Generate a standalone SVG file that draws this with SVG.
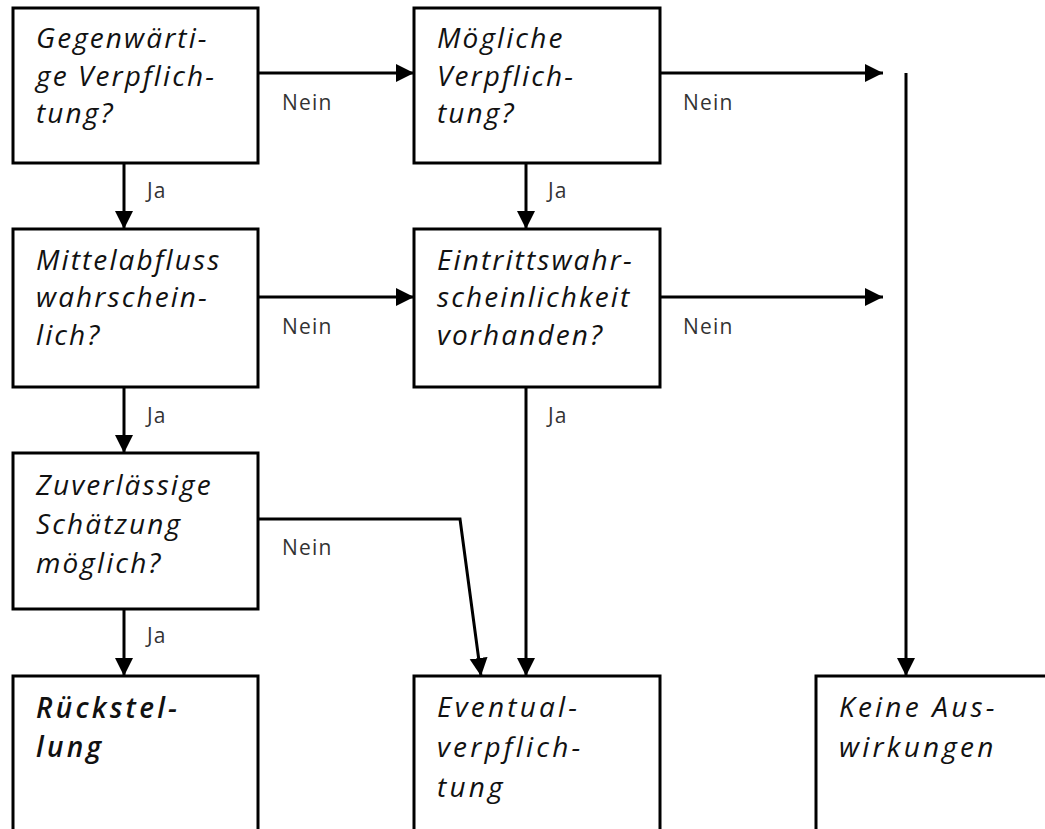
<svg xmlns="http://www.w3.org/2000/svg" width="1045" height="829" viewBox="0 0 1045 829">
<defs>
<marker id="arr" markerUnits="userSpaceOnUse" markerWidth="20" markerHeight="20" refX="18" refY="9" orient="auto">
<path d="M0,0 L18,9 L0,18 Z" fill="#000"/>
</marker>
<style>
.box{fill:#fff;stroke:#000;stroke-width:3}
.t{font-family:"Open Sans","Noto Sans",sans-serif;font-style:italic;font-size:28px;letter-spacing:2.1px;fill:#111}
.b{font-weight:600}
.w{letter-spacing:3.2px}
.lbl{font-family:"Open Sans","Noto Sans",sans-serif;font-size:21px;letter-spacing:1.2px;fill:#333}
.c{fill:none;stroke:#000;stroke-width:3;marker-end:url(#arr)}
</style>
</defs>
<rect width="1045" height="829" fill="#fff"/>
<g id="connectors">
<line class="c" x1="258" y1="73" x2="414" y2="73"/>
<line class="c" x1="660" y1="73" x2="883" y2="73"/>
<line class="c" x1="906" y1="73" x2="906" y2="676"/>
<line class="c" x1="124" y1="163" x2="124" y2="229"/>
<line class="c" x1="526" y1="163" x2="526" y2="229"/>
<line class="c" x1="258" y1="297" x2="414" y2="297"/>
<line class="c" x1="660" y1="297" x2="883" y2="297"/>
<line class="c" x1="124" y1="387" x2="124" y2="453"/>
<line class="c" x1="526" y1="387" x2="526" y2="676"/>
<polyline class="c" points="258,519 460,519 481,676"/>
<line class="c" x1="124" y1="609" x2="124" y2="676"/>
<text class="lbl" x="282" y="110">Nein</text>
<text class="lbl" x="683" y="110">Nein</text>
<text class="lbl" x="147" y="198">Ja</text>
<text class="lbl" x="548" y="198">Ja</text>
<text class="lbl" x="282" y="334">Nein</text>
<text class="lbl" x="683" y="334">Nein</text>
<text class="lbl" x="147" y="423">Ja</text>
<text class="lbl" x="548" y="423">Ja</text>
<text class="lbl" x="282" y="555">Nein</text>
<text class="lbl" x="147" y="643">Ja</text>
</g>
<g id="n1">
<rect class="box" x="13" y="8" width="245" height="155"/>
<text class="t" x="36" y="48">Gegenwärti-</text>
<text class="t" x="36" y="86">ge Verpflich-</text>
<text class="t" x="36" y="123">tung?</text>
</g>
<g id="n2">
<rect class="box" x="414" y="8" width="246" height="155"/>
<text class="t" x="437" y="48">Mögliche</text>
<text class="t" x="437" y="86">Verpflich-</text>
<text class="t" x="437" y="123">tung?</text>
</g>
<g id="n3">
<rect class="box" x="13" y="229" width="245" height="158"/>
<text class="t" x="36" y="270">Mittelabfluss</text>
<text class="t" x="36" y="307">wahrschein-</text>
<text class="t" x="36" y="345">lich?</text>
</g>
<g id="n4">
<rect class="box" x="414" y="229" width="246" height="158"/>
<text class="t" x="437" y="270">Eintrittswahr-</text>
<text class="t" x="437" y="307">scheinlichkeit</text>
<text class="t" x="437" y="345">vorhanden?</text>
</g>
<g id="n5">
<rect class="box" x="13" y="453" width="245" height="156"/>
<text class="t" x="36" y="495">Zuverlässige</text>
<text class="t" x="36" y="534">Schätzung</text>
<text class="t" x="36" y="573">möglich?</text>
</g>
<g id="n6">
<rect class="box" x="13" y="676" width="245" height="200"/>
<text class="t b w" x="36" y="718">Rückstel-</text>
<text class="t b w" x="36" y="757">lung</text>
</g>
<g id="n7">
<rect class="box" x="414" y="676" width="246" height="200"/>
<text class="t w" x="437" y="717">Eventual-</text>
<text class="t w" x="437" y="757">verpflich-</text>
<text class="t w" x="437" y="797">tung</text>
</g>
<g id="n8">
<rect class="box" x="816" y="676" width="260" height="200"/>
<text class="t w" x="839" y="717">Keine Aus-</text>
<text class="t w" x="839" y="757">wirkungen</text>
</g>
</svg>
